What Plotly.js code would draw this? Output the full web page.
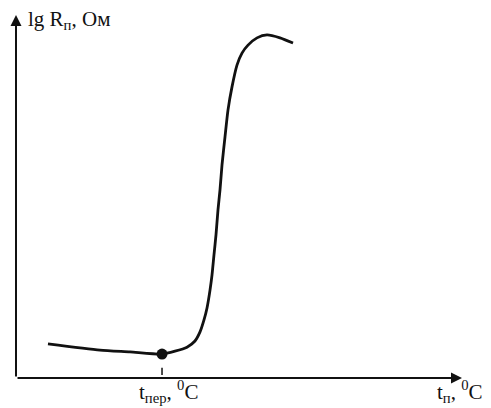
<!DOCTYPE html>
<html>
<head>
<meta charset="utf-8">
<script src="https://cdn.plot.ly/plotly-3.0.1.min.js"></script>
<style>html,body{margin:0;padding:0;background:#fff;}#chart{width:491px;height:408px;}</style>
</head>
<body>
<div id="chart"></div>
<script>
// Curve: temperature (arbitrary units) vs lg R (arbitrary units)
const tempValues = [7.17, 18.83, 25.56, 32.74, 35.65, 38.34, 40.13, 41.26, 42.15, 42.83, 43.50, 43.95, 44.39, 44.84, 45.29, 45.74, 46.19, 46.86, 47.53, 48.43, 49.55, 50.67, 52.02, 54.04, 56.28, 59.19, 62.11];
const lgRValues  = [0.94, 0.77, 0.72, 0.66, 0.74, 0.85, 1.02, 1.27, 1.60, 1.93, 2.42, 2.84, 3.39, 3.94, 4.63, 5.18, 5.87, 6.64, 7.38, 8.02, 8.62, 8.95, 9.17, 9.37, 9.45, 9.37, 9.23];
// Transition point
const transitionTemp = [32.74];
const transitionLgR = [0.66];
// Labels
const yLabel = "lg R<sub>п</sub>, Ом";
const xLabel = "t<sub>п</sub>, <sup>0</sup>C";
const transitionLabel = "t<sub>пер</sub>, <sup>0</sup>C";

const font = {family: "Liberation Serif, Times New Roman, serif", size: 21, color: "#111"};

const traces = [
  {x: tempValues, y: lgRValues, mode: "lines", line: {color: "#111", width: 2.8, shape: "spline", smoothing: 0.6}, hoverinfo: "skip"},
  {x: transitionTemp, y: transitionLgR, mode: "markers", marker: {color: "#111", size: 11}, hoverinfo: "skip"}
];

const layout = {
  width: 491, height: 408,
  margin: {l: 16, r: 29, t: 15, b: 30},
  paper_bgcolor: "#fff", plot_bgcolor: "#fff",
  showlegend: false,
  xaxis: {range: [0, 100], showgrid: false, zeroline: false, showticklabels: false, showline: false, ticks: ""},
  yaxis: {range: [0, 10], showgrid: false, zeroline: false, showticklabels: false, showline: false, ticks: ""},
  shapes: [
    {type: "line", xref: "x", yref: "y", x0: transitionTemp[0], x1: transitionTemp[0], y0: 0.08, y1: 0.28, line: {color: "#111", width: 1.5}}
  ],
  annotations: [
    {xref: "paper", yref: "paper", x: 0, y: 1, ax: 0, ay: 363, axref: "pixel", ayref: "pixel", text: "", showarrow: true, arrowhead: 2, arrowsize: 1.1, arrowwidth: 2, arrowcolor: "#111"},
    {xref: "paper", yref: "paper", x: 1, y: 0, ax: -446, ay: 0, text: "", showarrow: true, arrowhead: 2, arrowsize: 1.1, arrowwidth: 2, arrowcolor: "#111"},
    {xref: "paper", yref: "paper", x: 0.022, y: 0.985, xanchor: "left", yanchor: "middle", text: yLabel, showarrow: false, font: font},
    {xref: "x", yref: "paper", x: transitionTemp[0] - 5.6, y: -0.083, xanchor: "left", yanchor: "bottom", text: transitionLabel, showarrow: false, font: font},
    {xref: "paper", yref: "paper", x: 0.94, y: -0.083, xanchor: "left", yanchor: "bottom", text: xLabel, showarrow: false, font: font}
  ]
};

Plotly.newPlot("chart", traces, layout, {staticPlot: true, displayModeBar: false});
</script>
</body>
</html>
